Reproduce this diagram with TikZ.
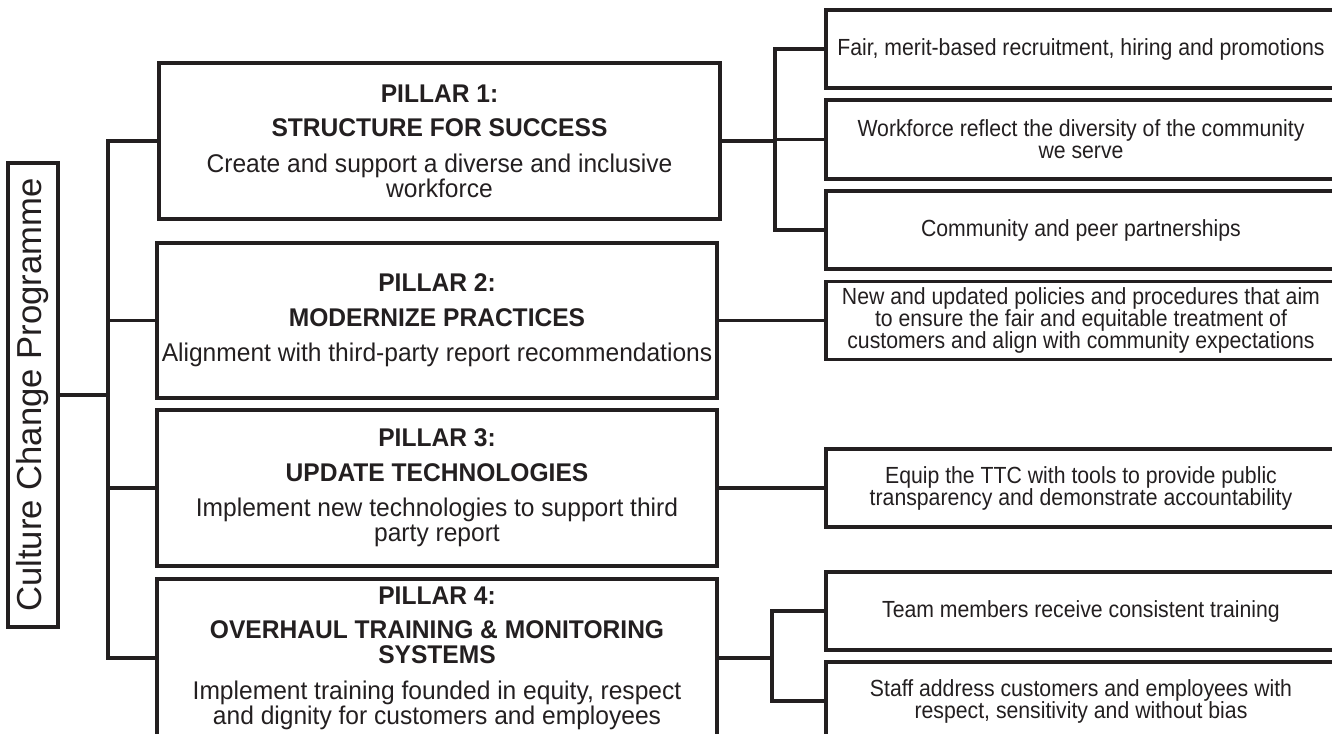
\documentclass[tikz,border=0pt]{standalone}
\usepackage{fontspec}
\setmainfont{Liberation Sans}
\newfontfamily\leaffont[FakeStretch=0.91]{Liberation Sans}
\newfontfamily\pillarfont[FakeStretch=0.96]{Liberation Sans}
\definecolor{ink}{RGB}{35,31,32}
\begin{document}
\begin{tikzpicture}[x=0.75pt,y=-0.75pt,
  box/.style={draw=ink, line width=2.3pt, rectangle, inner sep=0pt, align=center, text=ink},
  pillar/.style={box, minimum width=420pt, minimum height=117pt, font=\pillarfont\fontsize{19.2}{18.75}\selectfont},
  leaf/.style={box, minimum width=382.5pt, minimum height=58.5pt, font=\leaffont\fontsize{17.5}{16.5}\selectfont},
  conn/.style={draw=ink, line width=2.3pt}]
\useasboundingbox (0,0) rectangle (1332,733);

% root
\node[box, rotate=90, minimum width=348pt, minimum height=37.5pt, font=\fontsize{26}{28}\selectfont] (root) at (33,395) {Culture Change Programme};

% pillars
\node[pillar, minimum width=420.75pt] (p1) at (439.5,141) {\textbf{PILLAR 1:}\\[7pt]\textbf{STRUCTURE FOR SUCCESS}\\[8pt]Create and support a diverse and inclusive\\workforce};
\node[pillar, minimum height=116.25pt] (p2) at (437,320.5) {\textbf{PILLAR 2:}\\[7pt]\textbf{MODERNIZE PRACTICES}\\[8pt]Alignment with third-party report recommendations};
\node[pillar] (p3) at (437,488) {\textbf{PILLAR 3:}\\[7pt]\textbf{UPDATE TECHNOLOGIES}\\[8pt]Implement new technologies to support third\\party report};
\node[pillar, minimum height=118.5pt] (p4) at (437,658) {\textbf{PILLAR 4:}\\[7pt]\textbf{OVERHAUL TRAINING \& MONITORING}\\\textbf{SYSTEMS}\\[8pt]Implement training founded in equity, respect\\and dignity for customers and employees};

% leaves
\node[leaf] (l1) at (1081,49) {Fair, merit-based recruitment, hiring and promotions};
\node[leaf, minimum height=59.25pt] (l2) at (1081,139.5) {Workforce reflect the diversity of the community\\we serve};
\node[leaf] (l3) at (1081,230) {Community and peer partnerships};
\node[leaf] (l4) at (1081,320.5) {New and updated policies and procedures that aim\\to ensure the fair and equitable treatment of\\customers and align with community expectations};
\node[leaf] (l5) at (1081,488) {Equip the TTC with tools to provide public\\transparency and demonstrate accountability};
\node[leaf] (l6) at (1081,611) {Team members receive consistent training};
\node[leaf] (l7) at (1081,701) {Staff address customers and employees with\\respect, sensitivity and without bias};

% connectors
\coordinate (t) at (108,0);
\coordinate (b1) at (775,0);
\coordinate (b2) at (772,0);
\draw[conn] (root.south) -- (root.south -| t);
\draw[conn] (p1.west) -- (p1.west -| t) -- (p4.west -| t) -- (p4.west);
\draw[conn] (p2.west -| t) -- (p2.west);
\draw[conn] (p3.west -| t) -- (p3.west);

\draw[conn] (p1.east) -- (p1.east -| b1);
\draw[conn] (l1.west) -- (l1.west -| b1) -- (l3.west -| b1) -- (l3.west);
\draw[conn] (l2.west -| b1) -- (l2.west);

\draw[conn] (p2.east) -- (l4.west);
\draw[conn] (p3.east) -- (l5.west);

\draw[conn] (p4.east) -- (p4.east -| b2);
\draw[conn] (l6.west) -- (l6.west -| b2) -- (l7.west -| b2) -- (l7.west);
\end{tikzpicture}
\end{document}
